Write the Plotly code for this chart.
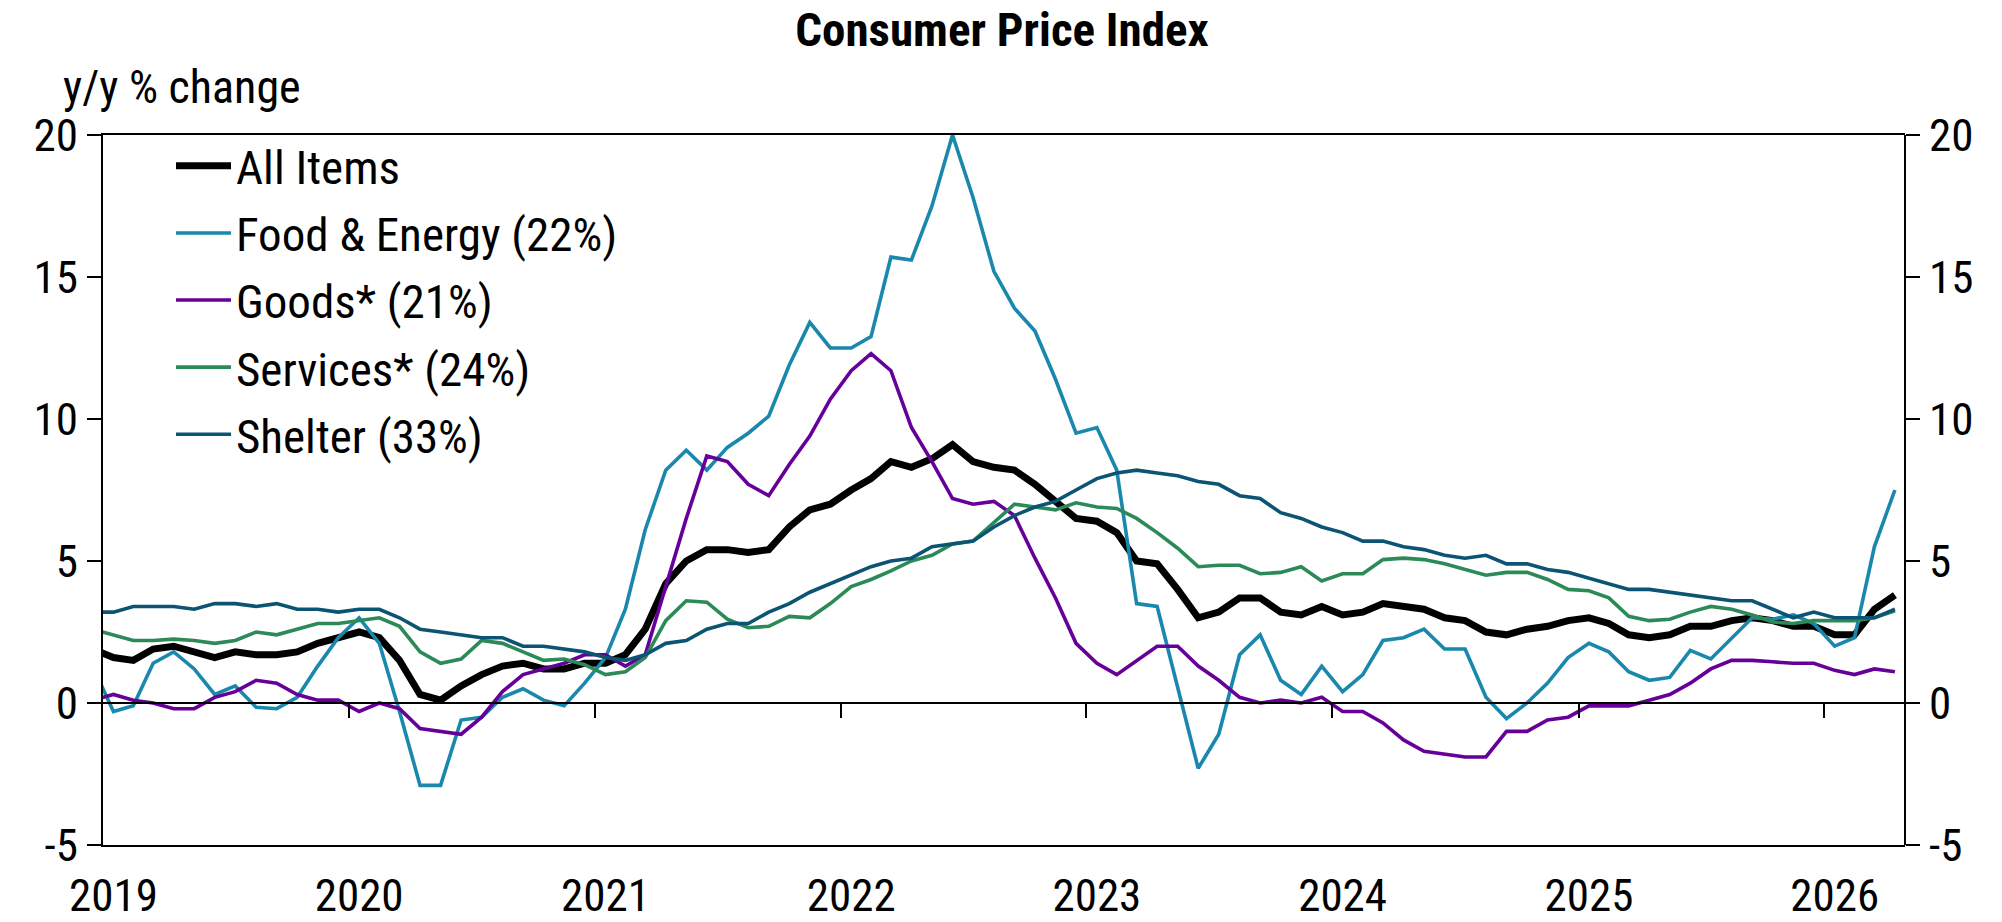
import pandas as pd
import plotly.graph_objects as go

# Monthly y/y % change, Dec 2018 .. Apr 2026 (Dec 2018 only feeds the line into the left edge)
start_month = "2018-12-01"
years = [2019, 2020, 2021, 2022, 2023, 2024, 2025, 2026]

all_items = [1.9,
    1.6, 1.5, 1.9, 2.0, 1.8, 1.6, 1.8, 1.7, 1.7, 1.8, 2.1, 2.3,
    2.5, 2.3, 1.5, 0.3, 0.1, 0.6, 1.0, 1.3, 1.4, 1.2, 1.2, 1.4,
    1.4, 1.7, 2.6, 4.2, 5.0, 5.4, 5.4, 5.3, 5.4, 6.2, 6.8, 7.0,
    7.5, 7.9, 8.5, 8.3, 8.6, 9.1, 8.5, 8.3, 8.2, 7.7, 7.1, 6.5,
    6.4, 6.0, 5.0, 4.9, 4.0, 3.0, 3.2, 3.7, 3.7, 3.2, 3.1, 3.4,
    3.1, 3.2, 3.5, 3.4, 3.3, 3.0, 2.9, 2.5, 2.4, 2.6, 2.7, 2.9,
    3.0, 2.8, 2.4, 2.3, 2.4, 2.7, 2.7, 2.9, 3.0, 2.9, 2.7, 2.7,
    2.4, 2.4, 3.3, 3.8]

food_energy = [1.3,
    -0.3, -0.1, 1.4, 1.8, 1.2, 0.3, 0.6, -0.15, -0.2, 0.2, 1.3, 2.3,
    3.0, 2.1, -0.3, -2.9, -2.9, -0.6, -0.5, 0.2, 0.5, 0.1, -0.1, 0.7,
    1.6, 3.3, 6.1, 8.2, 8.9, 8.2, 9.0, 9.5, 10.1, 11.9, 13.4, 12.5,
    12.5, 12.9, 15.7, 15.6, 17.5, 20.0, 17.8, 15.2, 13.9, 13.1, 11.4, 9.5,
    9.7, 8.2, 3.5, 3.4, 0.6, -2.3, -1.1, 1.7, 2.4, 0.8, 0.3, 1.3,
    0.4, 1.0, 2.2, 2.3, 2.6, 1.9, 1.9, 0.2, -0.55, 0.0, 0.7, 1.6,
    2.1, 1.8, 1.1, 0.8, 0.9, 1.85, 1.55, 2.3, 3.0, 2.95, 3.1, 2.8,
    2.0, 2.3, 5.5, 7.5]

goods = [0.1,
    0.3, 0.1, 0.0, -0.2, -0.2, 0.2, 0.4, 0.8, 0.7, 0.3, 0.1, 0.1,
    -0.3, 0.0, -0.2, -0.9, -1.0, -1.1, -0.5, 0.4, 1.0, 1.2, 1.4, 1.7,
    1.7, 1.3, 1.7, 4.1, 6.5, 8.7, 8.5, 7.7, 7.3, 8.4, 9.4, 10.7,
    11.7, 12.3, 11.7, 9.7, 8.5, 7.2, 7.0, 7.1, 6.6, 5.1, 3.7, 2.1,
    1.4, 1.0, 1.5, 2.0, 2.0, 1.3, 0.8, 0.2, 0.0, 0.1, 0.0, 0.2,
    -0.3, -0.3, -0.7, -1.3, -1.7, -1.8, -1.9, -1.9, -1.0, -1.0, -0.6, -0.5,
    -0.1, -0.1, -0.1, 0.1, 0.3, 0.7, 1.2, 1.5, 1.5, 1.45, 1.4, 1.4,
    1.15, 1.0, 1.2, 1.1]

services = [2.6,
    2.4, 2.2, 2.2, 2.25, 2.2, 2.1, 2.2, 2.5, 2.4, 2.6, 2.8, 2.8,
    2.9, 3.0, 2.7, 1.8, 1.4, 1.55, 2.2, 2.1, 1.8, 1.5, 1.55, 1.35,
    1.0, 1.1, 1.6, 2.9, 3.6, 3.55, 2.95, 2.65, 2.7, 3.05, 3.0, 3.5,
    4.1, 4.35, 4.65, 5.0, 5.2, 5.6, 5.7, 6.35, 7.0, 6.9, 6.8, 7.05,
    6.9, 6.85, 6.5, 6.0, 5.45, 4.8, 4.85, 4.85, 4.55, 4.6, 4.8, 4.3,
    4.55, 4.55, 5.05, 5.1, 5.05, 4.9, 4.7, 4.5, 4.6, 4.6, 4.35, 4.0,
    3.95, 3.7, 3.05, 2.9, 2.95, 3.2, 3.4, 3.3, 3.1, 2.85, 2.8, 2.9,
    2.9, 2.9, 3.0, 3.25]

shelter = [3.2,
    3.2, 3.4, 3.4, 3.4, 3.3, 3.5, 3.5, 3.4, 3.5, 3.3, 3.3, 3.2,
    3.3, 3.3, 3.0, 2.6, 2.5, 2.4, 2.3, 2.3, 2.0, 2.0, 1.9, 1.8,
    1.6, 1.5, 1.7, 2.1, 2.2, 2.6, 2.8, 2.8, 3.2, 3.5, 3.9, 4.2,
    4.5, 4.8, 5.0, 5.1, 5.5, 5.6, 5.7, 6.2, 6.6, 6.9, 7.1, 7.5,
    7.9, 8.1, 8.2, 8.1, 8.0, 7.8, 7.7, 7.3, 7.2, 6.7, 6.5, 6.2,
    6.0, 5.7, 5.7, 5.5, 5.4, 5.2, 5.1, 5.2, 4.9, 4.9, 4.7, 4.6,
    4.4, 4.2, 4.0, 4.0, 3.9, 3.8, 3.7, 3.6, 3.6, 3.3, 3.0, 3.2,
    3.0, 3.0, 3.0, 3.3]

series_names = ["All Items", "Food & Energy (22%)", "Goods* (21%)",
                "Services* (24%)", "Shelter (33%)"]
series_colors = ["#000000", "#1a88ad", "#660099", "#2b8a57", "#0c5473"]
series_widths = [7, 3.6, 3.6, 3.6, 3.6]
y_ticks = [-5, 0, 5, 10, 15, 20]
y_ticktext = ["-5", "0", "5", "10", "15", "20"]

# mid-month x positions
starts = pd.date_range(start_month, periods=len(all_items), freq="MS")
ends = starts + pd.offsets.MonthBegin(1)
mids = starts + (ends - starts) / 2

jan_starts = [pd.Timestamp(f"{y}-01-01") for y in years]
jan_mids = [s + (s + pd.offsets.MonthBegin(1) - s) / 2 for s in jan_starts]

FONT = "Roboto Condensed, Liberation Sans Narrow, Arial Narrow, sans-serif"
FS_TICK = 45
FS_TEXT = 47

# the page body adds an 8px margin, so the figure is 8px smaller to fit the window
W, H = 1994, 914
PLOT_W = 1802
PLOT_H = 710

fig = go.Figure()
data = [all_items, food_energy, goods, services, shelter]
for i, (name, vals, col, w) in enumerate(zip(series_names, data, series_colors, series_widths)):
    kw = dict(xaxis="x2", yaxis="y2") if i == len(data) - 1 else {}
    fig.add_trace(go.Scatter(
        x=mids, y=vals, mode="lines", name=name,
        line=dict(color=col, width=w, shape="linear"),
        legendgroup=f"g{i}", hoverinfo="skip", **kw))

axis_common = dict(showgrid=False, zeroline=False, linecolor="black", linewidth=2,
                   tickcolor="black", tickwidth=2, automargin=False,
                   tickfont=dict(family=FONT, size=FS_TICK, color="black"))

fig.update_layout(
    width=W, height=H,
    margin=dict(l=95, r=97, t=127, b=77, autoexpand=False),
    plot_bgcolor="white", paper_bgcolor="white",
    font=dict(family=FONT, size=FS_TICK, color="black"),
    title=dict(text="<b>Consumer Price Index</b>", x=0.4985, xref="container",
               xanchor="center", y=1 - 5 / H, yref="container", yanchor="top",
               pad=dict(t=0, b=0, l=0, r=0),
               font=dict(family=FONT, size=FS_TEXT, color="black")),
    showlegend=True,
    legend=dict(x=68 / PLOT_W, y=1.0087, xanchor="left", yanchor="top",
                bgcolor="rgba(0,0,0,0)", borderwidth=0, itemwidth=55,
                traceorder="grouped", tracegroupgap=3,
                font=dict(family=FONT, size=FS_TEXT, color="black")),
    xaxis=dict(type="date", range=["2019-01-01", "2026-05-01"], showline=True, mirror=True,
               ticks="", tickvals=jan_mids, ticktext=[str(y) for y in years],
               ticklabelstandoff=10, **axis_common),
    xaxis2=dict(type="date", overlaying="x", matches="x", anchor="free", position=0.2,
                showline=True, ticks="outside", ticklen=14, tickvals=jan_starts[1:],
                showticklabels=False, **axis_common),
    yaxis=dict(range=[-5, 20], tickvals=y_ticks, ticktext=y_ticktext, showline=True,
               ticks="outside", ticklen=14, **axis_common),
    yaxis2=dict(range=[-5, 20], tickvals=y_ticks, ticktext=y_ticktext, overlaying="y",
                matches="y", side="right", anchor="free", position=1, showline=True,
                ticks="outside", ticklen=14, **axis_common),
    annotations=[dict(text="y/y % change", xref="paper", yref="paper",
                      x=-42 / PLOT_W, y=1 + 48 / PLOT_H, xanchor="left",
                      yanchor="middle", showarrow=False,
                      font=dict(family=FONT, size=46, color="black"))],
)

fig.write_html("out.html")
